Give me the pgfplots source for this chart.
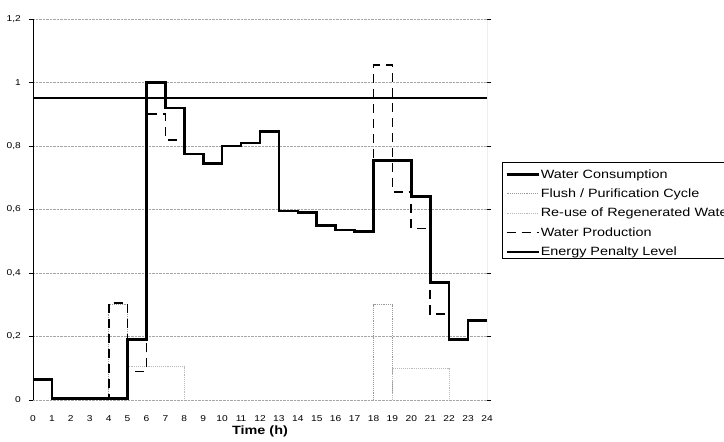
\documentclass[border=0pt]{standalone}
\usepackage{fontspec}
\usepackage{pgfplots}
\pgfplotsset{compat=1.18}
\newfontfamily\chartfont[FakeStretch=1.2]{Liberation Sans}

\begin{document}
\begin{tikzpicture}
\begin{axis}[
    scale only axis,
    width=454bp, height=381bp,
    xmin=0, xmax=24, ymin=0, ymax=1.2,
    xtick={0,1,...,24},
    ytick={0,0.2,0.4,0.6,0.8,1,1.2},
    yticklabels={0,{0,2},{0,4},{0,6},{0,8},1,{1,2}},
    axis line style={draw=none},
    ymajorgrids,
    grid style={gray!70, densely dotted, line width=0.6bp},
    tick align=outside,
    major tick length=4bp,
    xtick style={draw=none},
    ytick style={black, line width=0.6bp},
    /pgf/number format/assume math mode=true,
    ticklabel style={font=\chartfont\fontsize{8.5bp}{10bp}\selectfont, inner sep=0pt},
    yticklabel style={xshift=-8bp},
    xticklabel style={yshift=-11bp},
    xlabel={Time (h)},
    xlabel style={font=\chartfont\bfseries\fontsize{12bp}{14bp}\selectfont, inner sep=0pt,
        at={(axis description cs:0.5,0)}, anchor=north, yshift=-26bp},
    const plot,
    legend cell align=left,
    legend image code/.code={\draw[#1] (0bp,-3bp) -- (32bp,-3bp);},
    legend style={at={(1.033,0.6247)}, anchor=north west, draw=black, line width=0.5bp,
        inner xsep=3bp, inner ysep=1.3bp, row sep=3.9bp, column sep=0bp,
        font=\chartfont\fontsize{12bp}{14bp}\selectfont,
        nodes={inner xsep=1bp, inner ysep=0bp, text height=14.5bp, text depth=1bp}},
]
% flush / purification cycle
\addplot[forget plot, gray!80, densely dotted, line width=0.9bp] coordinates {
(0,0) (4,0.3) (5,0) (18,0.3) (19,0) (24,0)};
% re-use of regenerated water
\addplot[forget plot, gray!55, densely dotted, line width=0.9bp] coordinates {
(0,0) (5,0.105) (8,0) (19,0.1) (22,0) (24,0)};
% energy penalty level
\addplot[forget plot, black, line width=1.8bp] coordinates {(0,0.95) (24,0.95)};
% water production
\addplot[forget plot, black, line width=1.8bp, dash pattern=on 9bp off 6bp] coordinates {
(0,0.065) (1,0.005) (2,0.005) (3,0.005) (4,0.305) (5,0.09) (6,0.90) (7,0.82)
(8,0.775) (9,0.745) (10,0.80) (11,0.81) (12,0.845) (13,0.595) (14,0.59) (15,0.55)
(16,0.535) (17,0.53) (18,1.055) (19,0.655) (20,0.54) (21,0.27) (22,0.19) (23,0.25) (24,0.25)};
% water consumption
\addplot[forget plot, black, line width=2.6bp] coordinates {
(0,0.065) (1,0.005) (2,0.005) (3,0.005) (4,0.005) (5,0.19) (6,1.0) (7,0.92)
(8,0.775) (9,0.745) (10,0.80) (11,0.81) (12,0.845) (13,0.595) (14,0.59) (15,0.55)
(16,0.535) (17,0.53) (18,0.755) (19,0.755) (20,0.64) (21,0.37) (22,0.19) (23,0.25) (24,0.25)};
\addlegendimage{black, line width=2.6bp}
\addlegendentry{Water Consumption}
\addlegendimage{gray!80, densely dotted, line width=0.9bp}
\addlegendentry{Flush / Purification Cycle}
\addlegendimage{gray!55, densely dotted, line width=0.9bp}
\addlegendentry{Re-use of Regenerated Water}
\addlegendimage{black, line width=1.8bp, dash pattern=on 9bp off 6bp}
\addlegendentry{Water Production}
\addlegendimage{black, line width=1.8bp}
\addlegendentry{Energy Penalty Level}
\draw[black, line width=1.2bp] (rel axis cs:0,0) -- (rel axis cs:0,1);
\draw[gray, line width=1bp] (rel axis cs:1,0) -- (rel axis cs:1,1);
\end{axis}
\pgfresetboundingbox
\useasboundingbox ([shift={(-33bp,-42bp)}]current axis.south west)
    rectangle ([shift={(237bp,19bp)}]current axis.north east);
\end{tikzpicture}
\end{document}
